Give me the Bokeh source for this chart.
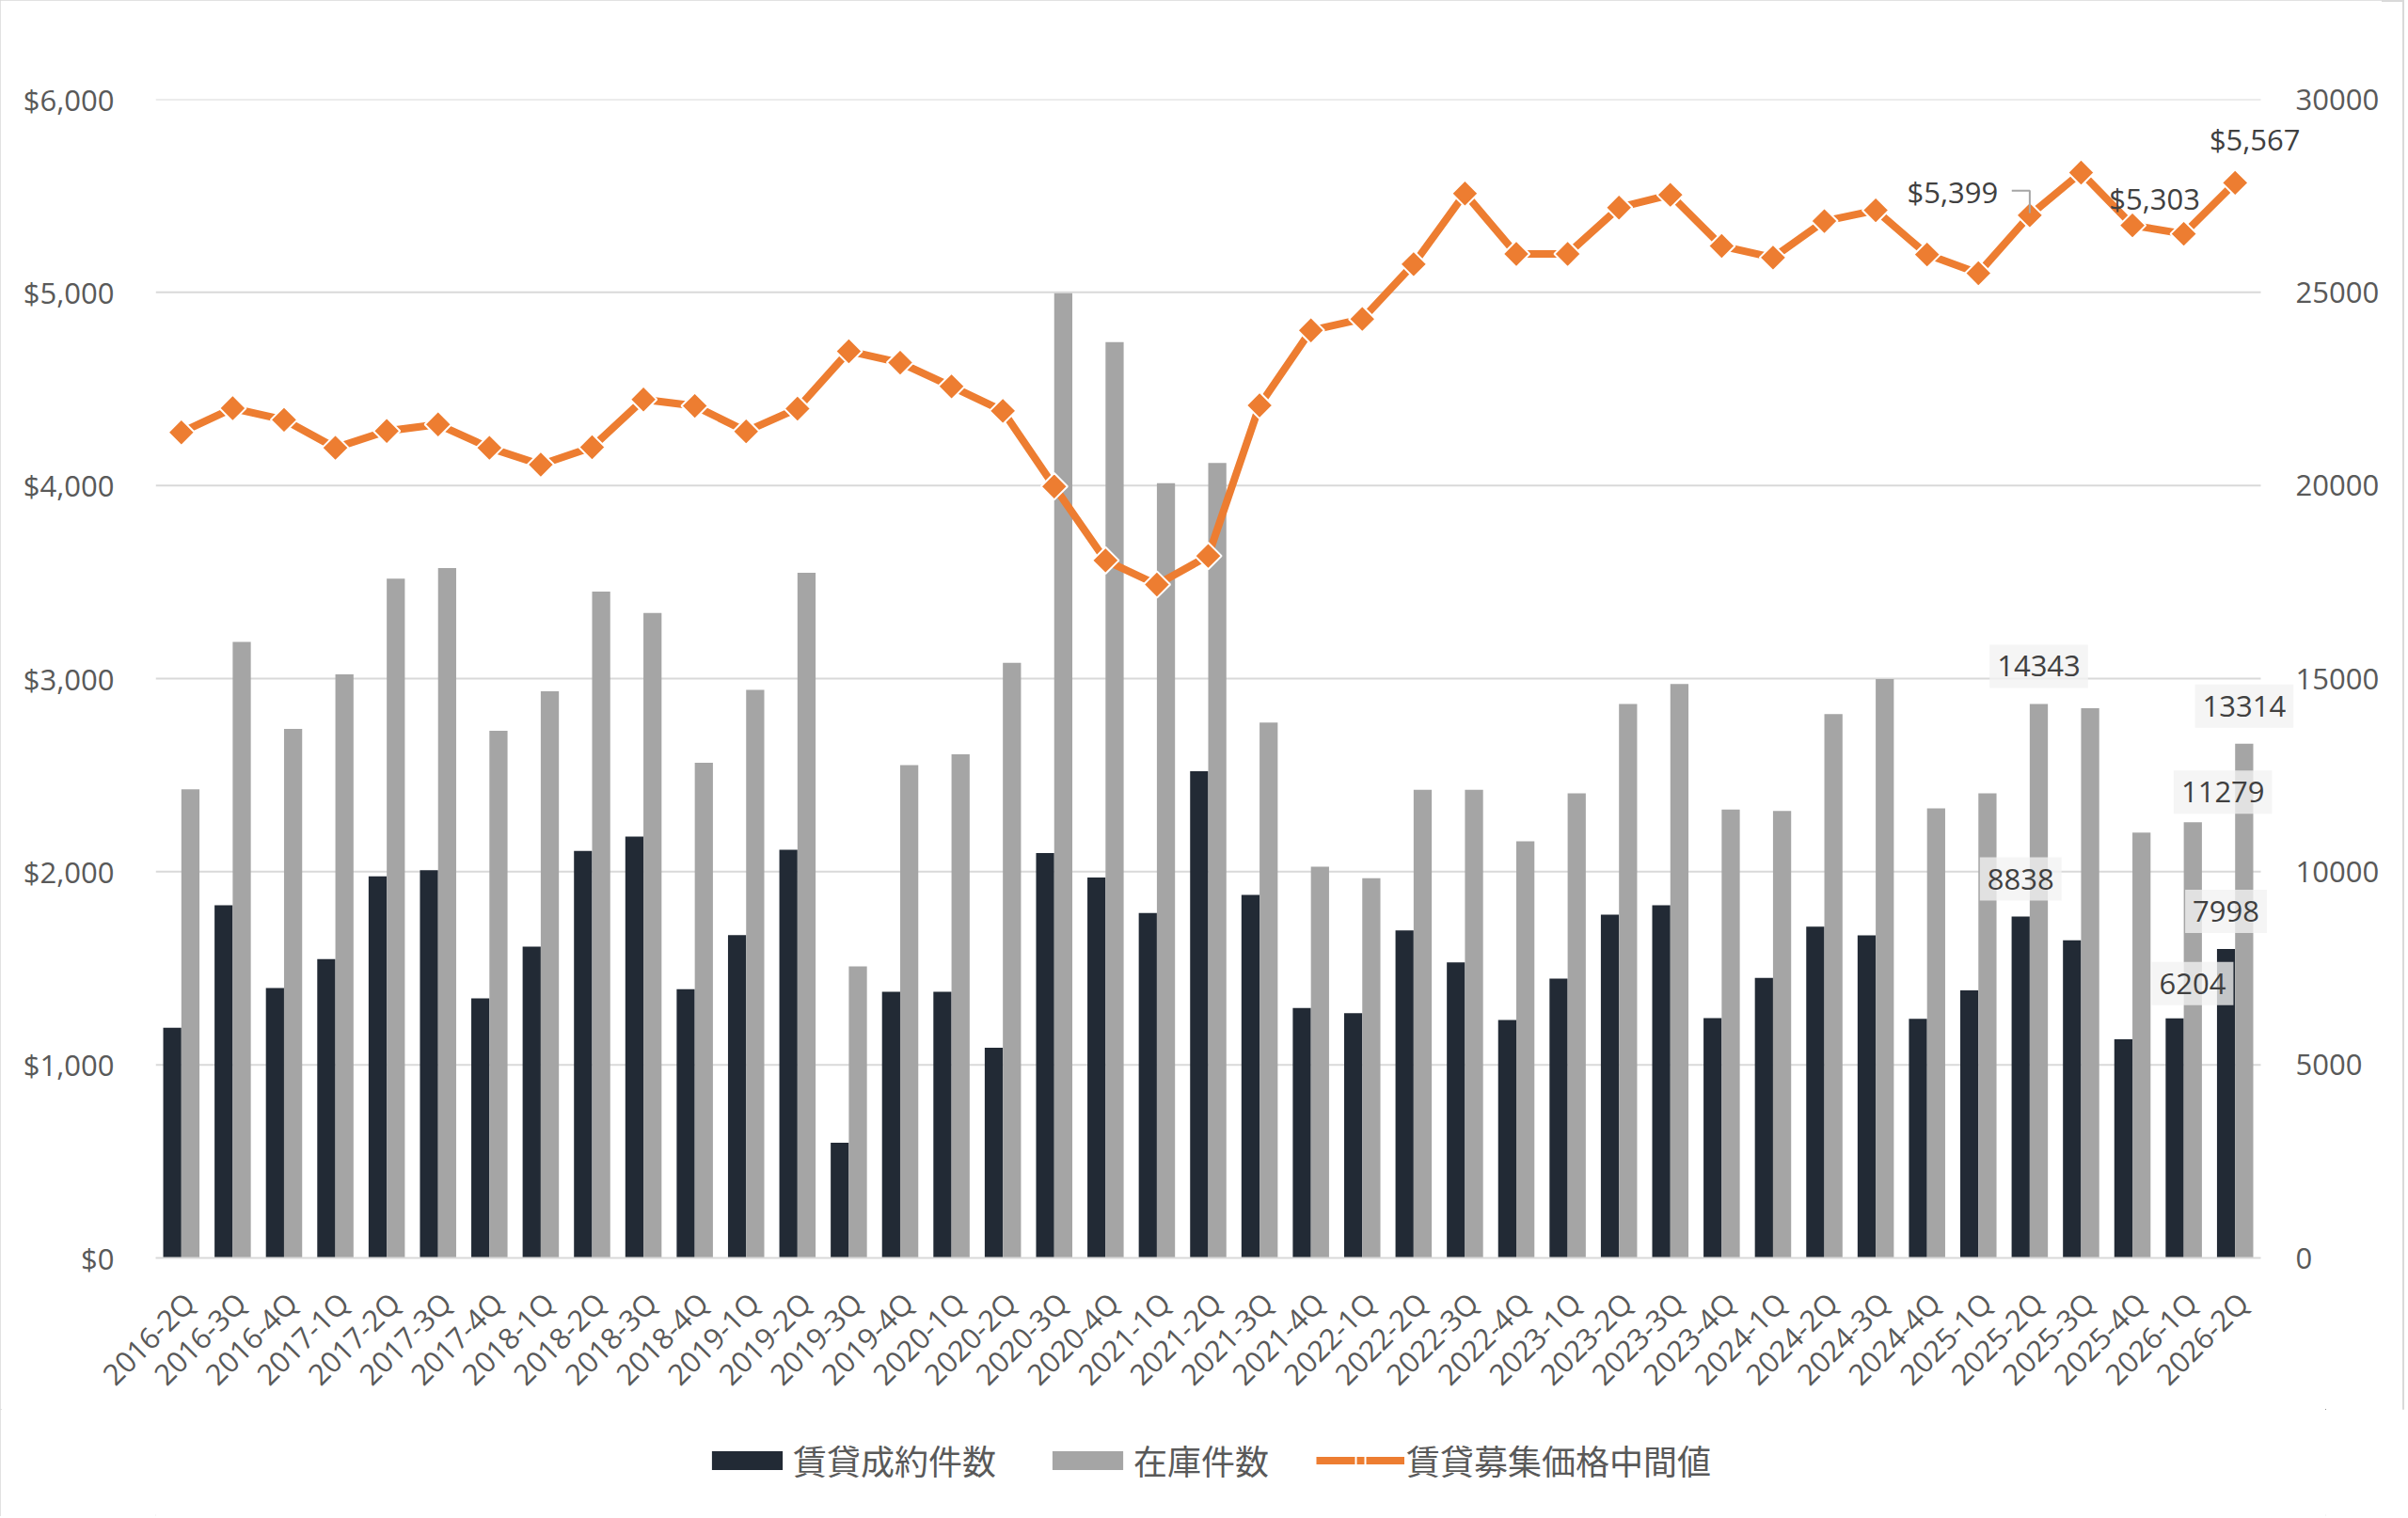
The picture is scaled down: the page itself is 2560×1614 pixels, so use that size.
import math

from bokeh.plotting import figure
from bokeh.layouts import column
from bokeh.models import (ColumnDataSource, Range1d, LinearAxis, Legend,
                          LegendItem, NumeralTickFormatter, FixedTicker,
                          SingleIntervalTicker, Label)
from bokeh.embed import file_html
from bokeh.resources import INLINE

# quarters 2016-2Q .. 2026-2Q
quarters = ["2016-2Q", "2016-3Q", "2016-4Q",
            "2017-1Q", "2017-2Q", "2017-3Q", "2017-4Q",
            "2018-1Q", "2018-2Q", "2018-3Q", "2018-4Q",
            "2019-1Q", "2019-2Q", "2019-3Q", "2019-4Q",
            "2020-1Q", "2020-2Q", "2020-3Q", "2020-4Q",
            "2021-1Q", "2021-2Q", "2021-3Q", "2021-4Q",
            "2022-1Q", "2022-2Q", "2022-3Q", "2022-4Q",
            "2023-1Q", "2023-2Q", "2023-3Q", "2023-4Q",
            "2024-1Q", "2024-2Q", "2024-3Q", "2024-4Q",
            "2025-1Q", "2025-2Q", "2025-3Q", "2025-4Q",
            "2026-1Q", "2026-2Q"]

# 賃貸成約件数 (right axis)
contracts = [5960, 9130, 6990, 7740, 9880, 10040, 6720,
             8060, 10540, 10910, 6960, 8360, 10570, 2980, 6890,
             6890, 5440, 10480, 9850, 8930, 12600, 9400, 6470,
             6340, 8480, 7650, 6160, 7230, 8890, 9130, 6210,
             7250, 8580, 8350, 6190, 6930, 8838, 8225, 5660,
             6204, 7998]

# 在庫件数 (right axis)
stock = [12130, 15950, 13700, 15110, 17590, 17860, 13650,
         14670, 17250, 16700, 12820, 14710, 17740, 7550, 12760,
         13040, 15410, 24980, 23710, 20060, 20580, 13860, 10130,
         9830, 12120, 12120, 10790, 12030, 14340, 14860, 11610,
         11570, 14080, 14990, 11640, 12030, 14343, 14230, 11010,
         11279, 13314]

# 賃貸募集価格中間値 (left axis, $)
price = [4275, 4400, 4340, 4195, 4282, 4316, 4195,
         4108, 4198, 4445, 4412, 4280, 4398, 4695, 4636,
         4513, 4386, 3995, 3612, 3487, 3635, 4415, 4803,
         4862, 5146, 5512, 5199, 5199, 5439, 5505, 5240,
         5180, 5369, 5425, 5196, 5099, 5399, 5620, 5347,
         5303, 5567]

# labelled points
stock_lbl_q = ["2025-2Q", "2026-1Q", "2026-2Q"]
contract_lbl_q = ["2025-2Q", "2026-1Q", "2026-2Q"]
price_lbl_q = ["2025-2Q", "2026-1Q", "2026-2Q"]

TXT = "#595959"
LBL = "#404040"
GRID = "#d9d9d9"
DARK = "#222a35"
GREY = "#a5a5a5"
ORANGE = "#ed7d31"
NUM_FONT = "Open Sans"
JP_FONT = "Noto Sans CJK JP"

n = len(quarters)
bw = 0.353
xc = [i + 0.5 for i in range(n)]
src = ColumnDataSource(data=dict(
    x=xc, xd=[x - bw / 2 for x in xc], xg=[x + bw / 2 for x in xc],
    contracts=contracts, stock=stock, price=price))

# the frame runs a little past the last category so that the boxed
# labels at the right end are not clipped
x_end = n + 45 / (2238 / n)

p = figure(frame_width=2283, frame_height=1232, x_range=Range1d(0, x_end),
           y_range=Range1d(0, 6000), output_backend="svg",
           toolbar_location=None,
           min_border_left=165, min_border_right=0,
           min_border_top=105, min_border_bottom=161)
p.outline_line_color = None
p.background_fill_color = "white"
p.border_fill_color = "white"
p.extra_y_ranges = {"cnt": Range1d(0, 30000)}

# grid lines, drawn only over the category span
grid_vals = list(range(1000, 6001, 1000))
p.segment(x0=[0] * len(grid_vals), x1=[n] * len(grid_vals), y0=grid_vals,
          y1=grid_vals, line_color=GRID, line_width=2)

# bars
p.vbar(x="xd", top="contracts", width=bw, source=src,
       y_range_name="cnt", fill_color=DARK, line_color=None)
p.vbar(x="xg", top="stock", width=bw, source=src,
       y_range_name="cnt", fill_color=GREY, line_color=None)

# price line
p.line(x="x", y="price", source=src, line_color=ORANGE,
       line_width=8, line_join="round")
p.scatter(x="x", y="price", source=src, marker="square", size=20,
          angle=math.pi / 4, fill_color=ORANGE, line_color="white",
          line_width=2)


def xpos(q, shift=0.0):
    return quarters.index(q) + 0.5 + shift


# bar data labels (boxed)
def bar_labels(qs, vals, shift, xoffs, yoffs):
    lookup = dict(zip(quarters, vals))
    for q, xo, yo in zip(qs, xoffs, yoffs):
        p.add_layout(Label(
            x=xpos(q, shift), y=lookup[q], y_range_name="cnt",
            text=str(lookup[q]), x_offset=xo, y_offset=yo,
            text_align="center", text_baseline="middle",
            text_font=NUM_FONT, text_font_size="31px", text_color=LBL,
            background_fill_color="#f2f2f2", background_fill_alpha=0.78,
            border_line_color=None, padding=(8, 12)))


bar_labels(stock_lbl_q, stock, bw / 2, [0, 32, 0], [40, 32, 40])
bar_labels(contract_lbl_q, contracts, -bw / 2, [0, 19, 0], [40, 37, 40])

# price data labels
plook = dict(zip(quarters, price))
for q, xo, yo in zip(price_lbl_q, [-82, -31, 21], [25, 38, 46]):
    p.add_layout(Label(
        x=xpos(q), y=plook[q], text="${:,}".format(plook[q]),
        x_offset=xo, y_offset=yo, text_align="center",
        text_baseline="middle", text_font=NUM_FONT, text_font_size="31px",
        text_color=LBL))

# leader line for $5,399
lq = price_lbl_q[0]
p.line(x=[xpos(lq, -0.35), xpos(lq), xpos(lq)],
       y=[plook[lq] + 127, plook[lq] + 127, plook[lq] + 12],
       line_color=GREY, line_width=2)

# axes
p.yaxis.ticker = SingleIntervalTicker(interval=1000)
p.yaxis.formatter = NumeralTickFormatter(format="$0,0")
right = LinearAxis(y_range_name="cnt",
                   ticker=SingleIntervalTicker(interval=5000))
p.add_layout(right, "right")

for ax in [p.yaxis[0], right]:
    ax.axis_line_color = None
    ax.major_tick_line_color = None
    ax.minor_tick_line_color = None
    ax.major_tick_out = 0
    ax.major_label_text_font = NUM_FONT
    ax.major_label_text_font_size = "31px"
    ax.major_label_text_color = TXT
p.yaxis[0].major_label_standoff = 40
right.major_label_standoff = -12

# rotated labels end a little right of the category centre, as in Excel
label_ticks = [x + 0.15 for x in xc]
p.xaxis.ticker = FixedTicker(ticks=label_ticks)
p.xaxis.major_label_overrides = dict(zip(label_ticks, quarters))
p.xaxis.bounds = (0, n)
p.xaxis.axis_line_color = GRID
p.xaxis.axis_line_width = 2
p.xaxis.major_tick_line_color = None
p.xaxis.minor_tick_line_color = None
p.xaxis.major_label_orientation = math.pi / 4
p.xaxis.major_label_text_font = NUM_FONT
p.xaxis.major_label_text_font_size = "31px"
p.xaxis.major_label_text_color = TXT
p.xaxis.major_label_standoff = 36

p.xgrid.grid_line_color = None
p.ygrid.grid_line_color = None

# legend strip below the chart; its renderers sit outside the visible range
# (the column lines its frame up with the chart frame, which starts at 165)
lg = figure(width=2556, height=114, x_range=Range1d(-200, -199),
            y_range=Range1d(-200, -199), output_backend="svg",
            toolbar_location=None, x_axis_type=None, y_axis_type=None,
            min_border_left=0, min_border_right=0,
            min_border_top=0, min_border_bottom=0)
lg.outline_line_color = None
lg.grid.grid_line_color = None
l_dark = lg.vbar(x="xd", top="contracts", width=bw, source=src,
                 fill_color=DARK, line_color=None)
l_grey = lg.vbar(x="xg", top="stock", width=bw, source=src,
                 fill_color=GREY, line_color=None)
l_line = lg.line(x="x", y="price", source=src, line_color=ORANGE,
                 line_width=8)
l_mark = lg.scatter(x="x", y="price", source=src, marker="square", size=14,
                    angle=math.pi / 4, fill_color=ORANGE,
                    line_color="white", line_width=2)

legend = Legend(items=[
    LegendItem(label="賃貸成約件数", renderers=[l_dark]),
    LegendItem(label="在庫件数", renderers=[l_grey]),
    LegendItem(label="賃貸募集価格中間値", renderers=[l_line, l_mark]),
], orientation="horizontal", location=(582, 34))
legend.label_text_font = JP_FONT
legend.label_text_font_size = "36px"
legend.label_text_color = TXT
legend.glyph_width = 94
legend.glyph_height = 25
legend.label_standoff = 2
legend.spacing = 50
legend.border_line_color = None
legend.background_fill_alpha = 0
legend.margin = 0
legend.padding = 0
lg.add_layout(legend, "center")

page = column(p, lg, spacing=0,
              styles={"outline": "2px solid #d9d9d9",
                      "outline-offset": "-2px"})

open("out.html", "w").write(file_html(page, INLINE))
